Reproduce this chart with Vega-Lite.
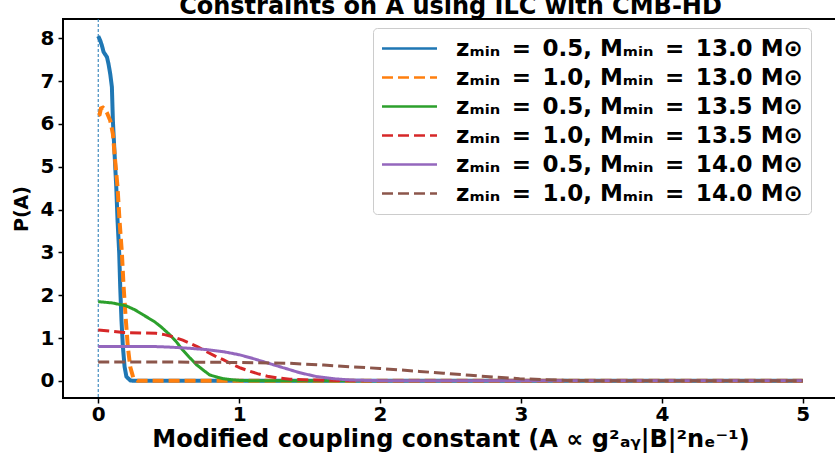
{
  "$schema": "https://vega.github.io/schema/vega-lite/v6.json",
  "autosize": "none",
  "width": 775,
  "height": 379,
  "padding": {"left": 63, "top": 19, "right": 0, "bottom": 59},
  "background": "white",
  "config": {
    "font": "DejaVu Sans",
    "view": {"stroke": "black", "strokeWidth": 2},
    "axis": {"grid": false, "domain": false, "labelFont": "DejaVu Sans", "labelFontWeight": "bold", "labelFontSize": 20, "labelColor": "black", "tickColor": "black", "tickWidth": 1.5, "tickSize": 5, "titleFont": "DejaVu Sans", "titleFontWeight": "bold", "titleColor": "black"},
    "legend": {"orient": "none", "legendX": 310, "legendY": 9, "labelFont": "DejaVu Sans", "labelFontWeight": "bold", "labelFontSize": 23, "labelLimit": 0, "labelColor": "black", "symbolType": "M-2.5,0H2.5", "symbolSize": 484, "symbolStrokeWidth": 2.5, "symbolOffset": 16, "labelOffset": 34, "rowPadding": 4, "padding": 8, "strokeColor": "#cccccc", "fillColor": "white", "cornerRadius": 4}
  },
  "title": {"text": "Constraints on A using ILC with CMB-HD", "font": "DejaVu Sans", "fontSize": 24, "fontWeight": "bold", "color": "black", "frame": "group", "anchor": "middle", "baseline": "alphabetic", "offset": 1, "dy": 20},
  "datasets": {
    "curves": [
      {"s": "A", "x": 0, "y": 8.05}, {"s": "A", "x": 0.014, "y": 7.95}, {"s": "A", "x": 0.026, "y": 7.83}, {"s": "A", "x": 0.038, "y": 7.68}, {"s": "A", "x": 0.062, "y": 7.56}, {"s": "A", "x": 0.073, "y": 7.4}, {"s": "A", "x": 0.085, "y": 7.17}, {"s": "A", "x": 0.097, "y": 6.86}, {"s": "A", "x": 0.104, "y": 6.08}, {"s": "A", "x": 0.116, "y": 5.3}, {"s": "A", "x": 0.128, "y": 4.53}, {"s": "A", "x": 0.137, "y": 3.75}, {"s": "A", "x": 0.149, "y": 2.98}, {"s": "A", "x": 0.156, "y": 2.2}, {"s": "A", "x": 0.165, "y": 1.42}, {"s": "A", "x": 0.175, "y": 0.8}, {"s": "A", "x": 0.187, "y": 0.33}, {"s": "A", "x": 0.2, "y": 0.1}, {"s": "A", "x": 0.227, "y": 0.01}, {"s": "A", "x": 0.26, "y": 0}, {"s": "A", "x": 1, "y": 0}, {"s": "A", "x": 2, "y": 0}, {"s": "A", "x": 3, "y": 0}, {"s": "A", "x": 4, "y": 0}, {"s": "A", "x": 5, "y": 0},
      {"s": "B", "x": 0, "y": 6.2}, {"s": "B", "x": 0.01, "y": 6.22}, {"s": "B", "x": 0.019, "y": 6.36}, {"s": "B", "x": 0.033, "y": 6.38}, {"s": "B", "x": 0.05, "y": 6.33}, {"s": "B", "x": 0.062, "y": 6.26}, {"s": "B", "x": 0.085, "y": 6.08}, {"s": "B", "x": 0.104, "y": 5.77}, {"s": "B", "x": 0.12, "y": 5.15}, {"s": "B", "x": 0.137, "y": 4.53}, {"s": "B", "x": 0.151, "y": 3.75}, {"s": "B", "x": 0.168, "y": 2.98}, {"s": "B", "x": 0.18, "y": 2.2}, {"s": "B", "x": 0.196, "y": 1.42}, {"s": "B", "x": 0.21, "y": 0.8}, {"s": "B", "x": 0.227, "y": 0.33}, {"s": "B", "x": 0.25, "y": 0.06}, {"s": "B", "x": 0.28, "y": 0}, {"s": "B", "x": 1, "y": 0}, {"s": "B", "x": 2, "y": 0}, {"s": "B", "x": 3, "y": 0}, {"s": "B", "x": 4, "y": 0}, {"s": "B", "x": 5, "y": 0},
      {"s": "C", "x": 0, "y": 1.85}, {"s": "C", "x": 0.1, "y": 1.82}, {"s": "C", "x": 0.2, "y": 1.75}, {"s": "C", "x": 0.26, "y": 1.66}, {"s": "C", "x": 0.32, "y": 1.54}, {"s": "C", "x": 0.4, "y": 1.38}, {"s": "C", "x": 0.45, "y": 1.25}, {"s": "C", "x": 0.51, "y": 1.07}, {"s": "C", "x": 0.55, "y": 0.93}, {"s": "C", "x": 0.6, "y": 0.72}, {"s": "C", "x": 0.65, "y": 0.54}, {"s": "C", "x": 0.7, "y": 0.37}, {"s": "C", "x": 0.75, "y": 0.24}, {"s": "C", "x": 0.79, "y": 0.14}, {"s": "C", "x": 0.85, "y": 0.08}, {"s": "C", "x": 0.89, "y": 0.05}, {"s": "C", "x": 0.95, "y": 0.025}, {"s": "C", "x": 1.0, "y": 0.01}, {"s": "C", "x": 1.1, "y": 0.003}, {"s": "C", "x": 1.3, "y": 0}, {"s": "C", "x": 2, "y": 0}, {"s": "C", "x": 3, "y": 0}, {"s": "C", "x": 4, "y": 0}, {"s": "C", "x": 5, "y": 0},
      {"s": "D", "x": 0, "y": 1.19}, {"s": "D", "x": 0.1, "y": 1.16}, {"s": "D", "x": 0.18, "y": 1.13}, {"s": "D", "x": 0.3, "y": 1.12}, {"s": "D", "x": 0.41, "y": 1.11}, {"s": "D", "x": 0.47, "y": 1.08}, {"s": "D", "x": 0.53, "y": 1.03}, {"s": "D", "x": 0.6, "y": 0.95}, {"s": "D", "x": 0.65, "y": 0.88}, {"s": "D", "x": 0.71, "y": 0.79}, {"s": "D", "x": 0.77, "y": 0.68}, {"s": "D", "x": 0.83, "y": 0.58}, {"s": "D", "x": 0.89, "y": 0.49}, {"s": "D", "x": 0.95, "y": 0.39}, {"s": "D", "x": 1.01, "y": 0.3}, {"s": "D", "x": 1.07, "y": 0.23}, {"s": "D", "x": 1.13, "y": 0.17}, {"s": "D", "x": 1.2, "y": 0.11}, {"s": "D", "x": 1.27, "y": 0.07}, {"s": "D", "x": 1.36, "y": 0.04}, {"s": "D", "x": 1.5, "y": 0.02}, {"s": "D", "x": 1.7, "y": 0.01}, {"s": "D", "x": 2.0, "y": 0}, {"s": "D", "x": 3, "y": 0}, {"s": "D", "x": 4, "y": 0}, {"s": "D", "x": 5, "y": 0},
      {"s": "E", "x": 0, "y": 0.8}, {"s": "E", "x": 0.2, "y": 0.8}, {"s": "E", "x": 0.41, "y": 0.8}, {"s": "E", "x": 0.5, "y": 0.79}, {"s": "E", "x": 0.65, "y": 0.76}, {"s": "E", "x": 0.77, "y": 0.73}, {"s": "E", "x": 0.89, "y": 0.68}, {"s": "E", "x": 1.0, "y": 0.61}, {"s": "E", "x": 1.08, "y": 0.54}, {"s": "E", "x": 1.13, "y": 0.49}, {"s": "E", "x": 1.2, "y": 0.42}, {"s": "E", "x": 1.31, "y": 0.31}, {"s": "E", "x": 1.43, "y": 0.19}, {"s": "E", "x": 1.55, "y": 0.1}, {"s": "E", "x": 1.67, "y": 0.05}, {"s": "E", "x": 1.79, "y": 0.02}, {"s": "E", "x": 1.9, "y": 0.01}, {"s": "E", "x": 2.1, "y": 0}, {"s": "E", "x": 3, "y": 0}, {"s": "E", "x": 4, "y": 0}, {"s": "E", "x": 5, "y": 0},
      {"s": "F", "x": 0, "y": 0.44}, {"s": "F", "x": 0.5, "y": 0.44}, {"s": "F", "x": 1.0, "y": 0.43}, {"s": "F", "x": 1.36, "y": 0.41}, {"s": "F", "x": 1.6, "y": 0.37}, {"s": "F", "x": 1.79, "y": 0.33}, {"s": "F", "x": 2.0, "y": 0.29}, {"s": "F", "x": 2.28, "y": 0.22}, {"s": "F", "x": 2.45, "y": 0.18}, {"s": "F", "x": 2.64, "y": 0.13}, {"s": "F", "x": 2.8, "y": 0.09}, {"s": "F", "x": 2.99, "y": 0.05}, {"s": "F", "x": 3.2, "y": 0.025}, {"s": "F", "x": 3.35, "y": 0.01}, {"s": "F", "x": 3.6, "y": 0.003}, {"s": "F", "x": 4, "y": 0}, {"s": "F", "x": 5, "y": 0}
    ]
  },
  "layer": [
    {
      "data": {"values": [{"v": 0}]},
      "mark": {"type": "rule", "color": "#1f77b4", "strokeWidth": 1, "strokeDash": [3, 2]},
      "encoding": {"x": {"field": "v", "type": "quantitative"}}
    },
    {
      "data": {"name": "curves"},
      "transform": [{"filter": {"field": "s", "oneOf": ["A", "B"]}}],
      "mark": {"type": "line", "strokeWidth": 4, "clip": true},
      "encoding": {
        "x": {"field": "x", "type": "quantitative", "scale": {"domain": [-0.25, 5.25], "nice": false, "zero": false}, "axis": {"values": [0, 1, 2, 3, 4, 5], "format": "d", "title": "Modified coupling constant (A ∝ g²ₐᵧ|B|²nₑ⁻¹)", "titleFontSize": 24, "labelPadding": 1, "titlePadding": 3}},
        "y": {"field": "y", "type": "quantitative", "scale": {"domain": [-0.4, 8.45], "nice": false, "zero": false}, "axis": {"values": [0, 1, 2, 3, 4, 5, 6, 7, 8], "format": "d", "title": "P(A)", "titleFontSize": 19, "labelPadding": 4, "titlePadding": 9}},
        "color": {"field": "s", "type": "nominal", "scale": {"domain": ["A", "B", "C", "D", "E", "F"], "range": ["#1f77b4", "#ff7f0e", "#2ca02c", "#d62728", "#9467bd", "#8c564b"]}, "legend": {"title": null, "labelExpr": "{'A': 'zₘᵢₙ\u2002=\u20020.5, Mₘᵢₙ\u2002=\u200213.0 M⊙', 'B': 'zₘᵢₙ\u2002=\u20021.0, Mₘᵢₙ\u2002=\u200213.0 M⊙', 'C': 'zₘᵢₙ\u2002=\u20020.5, Mₘᵢₙ\u2002=\u200213.5 M⊙', 'D': 'zₘᵢₙ\u2002=\u20021.0, Mₘᵢₙ\u2002=\u200213.5 M⊙', 'E': 'zₘᵢₙ\u2002=\u20020.5, Mₘᵢₙ\u2002=\u200214.0 M⊙', 'F': 'zₘᵢₙ\u2002=\u20021.0, Mₘᵢₙ\u2002=\u200214.0 M⊙'}[datum.value]"}},
        "strokeDash": {"field": "s", "type": "nominal", "scale": {"domain": ["A", "B", "C", "D", "E", "F"], "range": [[1, 0], [11, 5], [1, 0], [11, 5], [1, 0], [11, 5]]}, "legend": {"title": null, "labelExpr": "{'A': 'zₘᵢₙ\u2002=\u20020.5, Mₘᵢₙ\u2002=\u200213.0 M⊙', 'B': 'zₘᵢₙ\u2002=\u20021.0, Mₘᵢₙ\u2002=\u200213.0 M⊙', 'C': 'zₘᵢₙ\u2002=\u20020.5, Mₘᵢₙ\u2002=\u200213.5 M⊙', 'D': 'zₘᵢₙ\u2002=\u20021.0, Mₘᵢₙ\u2002=\u200213.5 M⊙', 'E': 'zₘᵢₙ\u2002=\u20020.5, Mₘᵢₙ\u2002=\u200214.0 M⊙', 'F': 'zₘᵢₙ\u2002=\u20021.0, Mₘᵢₙ\u2002=\u200214.0 M⊙'}[datum.value]"}},
        "order": {"field": "x", "type": "quantitative"}
      }
    },
    {
      "data": {"name": "curves"},
      "transform": [{"filter": {"field": "s", "oneOf": ["C", "D", "E", "F"]}}],
      "mark": {"type": "line", "strokeWidth": 3, "clip": true},
      "encoding": {
        "x": {"field": "x", "type": "quantitative"},
        "y": {"field": "y", "type": "quantitative"},
        "color": {"field": "s", "type": "nominal"},
        "strokeDash": {"field": "s", "type": "nominal"},
        "order": {"field": "x", "type": "quantitative"}
      }
    }
  ]
}
